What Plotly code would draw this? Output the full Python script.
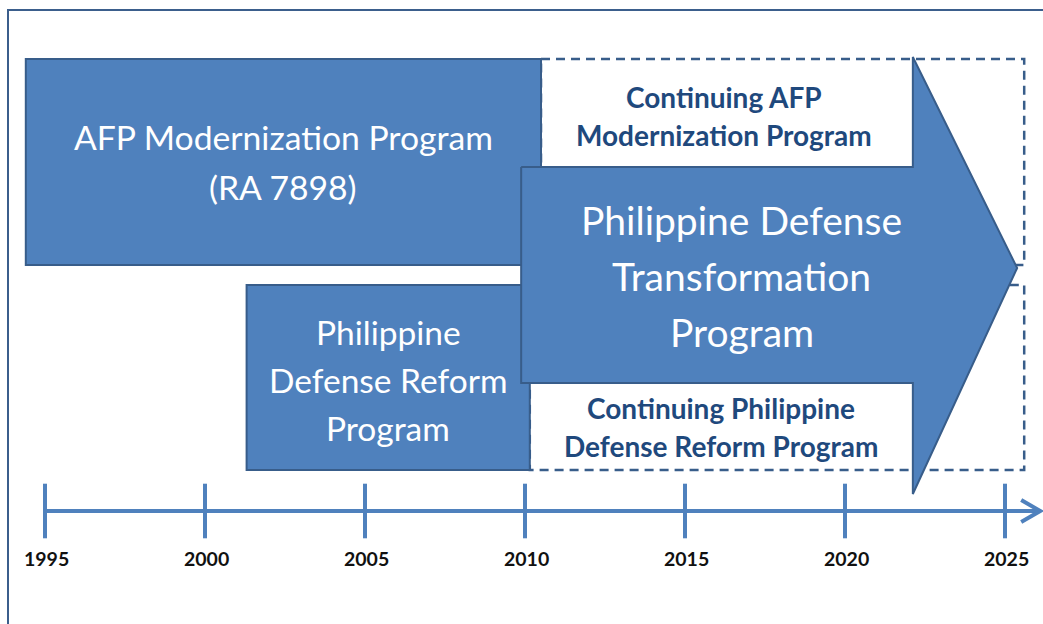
import plotly.graph_objects as go

# ---- data (years) ----
program_labels = ["AFP Modernization Program<br>(RA 7898)",
                  "Philippine<br>Defense Reform<br>Program"]
program_start = [1994.4, 2001.3]
program_end = [2010.5, 2010.15]

continuing_labels = ["Continuing AFP<br>Modernization Program",
                     "Continuing Philippine<br>Defense Reform Program"]
continuing_end = [2025.6, 2025.6]

transform_label = "Philippine Defense<br>Transformation<br>Program"
transform_start = 2009.88
transform_head = 2022.12
transform_tip = 2025.38

timeline_years = [1995, 2000, 2005, 2010, 2015, 2020, 2025]
timeline_end = 2026.1

# ---- layout constants (pixel rows, y axis reversed) ----
W, H = 1043, 624
PX_PER_YEAR = 32.0
X0_YEAR = 1995 - 45 / PX_PER_YEAR
lanes = [(59, 265), (285, 470)]
body = (167, 383)
head = (57, 494)
tip_y = 268
axis_y = 511

FILL = "#4F81BD"
EDGE = "#385D8A"
DARK_TEXT = "#1F497D"
FONT = "Lato"

fig = go.Figure()
shapes = []
annotations = []


def add_text_lines(label, xc, yc, size, spacing, color, bold=False):
    lines = label.split("<br>")
    n = len(lines)
    for i, ln in enumerate(lines):
        y = yc + (i - (n - 1) / 2) * spacing
        annotations.append(dict(
            x=xc, y=y, xref="x", yref="y", showarrow=False,
            text=f"<b>{ln}</b>" if bold else ln,
            font=dict(family=FONT, size=size, color=color),
            xanchor="center", yanchor="middle"))


# outer frame
shapes.append(dict(type="rect", xref="paper", yref="paper",
                   x0=8 / W, x1=1.1, y0=1 - 10 / H, y1=-0.1,
                   line=dict(color="#3B5E8C", width=2), fillcolor="rgba(0,0,0,0)",
                   layer="below"))

# dashed "continuing" areas
for i in range(2):
    y0, y1 = lanes[i]
    shapes.append(dict(type="rect", xref="x", yref="y",
                       x0=program_end[i], x1=continuing_end[i], y0=y0, y1=y1,
                       line=dict(color=EDGE, width=2.5, dash="9px,6px"),
                       fillcolor="white", layer="below"))

# solid program boxes
for i in range(2):
    y0, y1 = lanes[i]
    shapes.append(dict(type="rect", xref="x", yref="y",
                       x0=program_start[i], x1=program_end[i], y0=y0, y1=y1,
                       line=dict(color=EDGE, width=2), fillcolor=FILL,
                       layer="below"))

# transformation arrow (drawn through data coordinates)
ax = [transform_start, transform_head, transform_head, transform_tip,
      transform_head, transform_head, transform_start, transform_start]
ay = [body[0], body[0], head[0], tip_y, head[1], body[1], body[1], body[0]]
fig.add_trace(go.Scatter(x=ax, y=ay, mode="lines", fill="toself",
                         fillcolor=FILL, line=dict(color=EDGE, width=2),
                         hoverinfo="skip", showlegend=False))

# timeline axis line
fig.add_trace(go.Scatter(x=[timeline_years[0], timeline_end - 0.05], y=[axis_y, axis_y],
                         mode="lines", line=dict(color=FILL, width=4),
                         hoverinfo="skip", showlegend=False))
# chevron arrow head
chev_back = timeline_end - 19 / PX_PER_YEAR
fig.add_trace(go.Scatter(x=[chev_back, timeline_end, chev_back],
                         y=[axis_y - 11, axis_y, axis_y + 11],
                         mode="lines", line=dict(color=FILL, width=4),
                         hoverinfo="skip", showlegend=False))
# ticks
fig.add_trace(go.Scatter(x=timeline_years, y=[axis_y] * len(timeline_years),
                         mode="markers",
                         marker=dict(symbol="line-ns", size=39,
                                     line=dict(color=FILL, width=4)),
                         hoverinfo="skip", showlegend=False))
# tick labels
fig.add_trace(go.Scatter(x=[y + 0.05 for y in timeline_years],
                         y=[561] * len(timeline_years),
                         mode="text", text=[f"<b>{y}</b>" for y in timeline_years],
                         textfont=dict(family=FONT, size=19.5, color="#111111"),
                         hoverinfo="skip", showlegend=False))

# texts
add_text_lines(program_labels[0], (program_start[0] + program_end[0]) / 2,
               sum(lanes[0]) / 2, 33.7, 50, "white")
add_text_lines(program_labels[1], (program_start[1] + program_end[1]) / 2,
               sum(lanes[1]) / 2 + 2, 33.5, 48, "white")
add_text_lines(continuing_labels[0], (program_end[0] + transform_head) / 2 - 0.1,
               116, 28, 38, DARK_TEXT, bold=True)
add_text_lines(continuing_labels[1], (program_end[1] + transform_head) / 2,
               427, 28, 38, DARK_TEXT, bold=True)
add_text_lines(transform_label, (transform_start + transform_head) / 2 + 0.78,
               276, 39, 56, "white")

fig.update_layout(
    width=W, height=H, margin=dict(l=0, r=0, t=0, b=0),
    paper_bgcolor="white", plot_bgcolor="white",
    xaxis=dict(range=[X0_YEAR, X0_YEAR + W / PX_PER_YEAR], visible=False,
               fixedrange=True),
    yaxis=dict(range=[H, 0], visible=False, fixedrange=True),
    shapes=shapes, annotations=annotations, showlegend=False)

fig.write_html("out.html", config={"displayModeBar": False},
               post_script="document.body.style.margin='0px';document.body.style.padding='0px';")
